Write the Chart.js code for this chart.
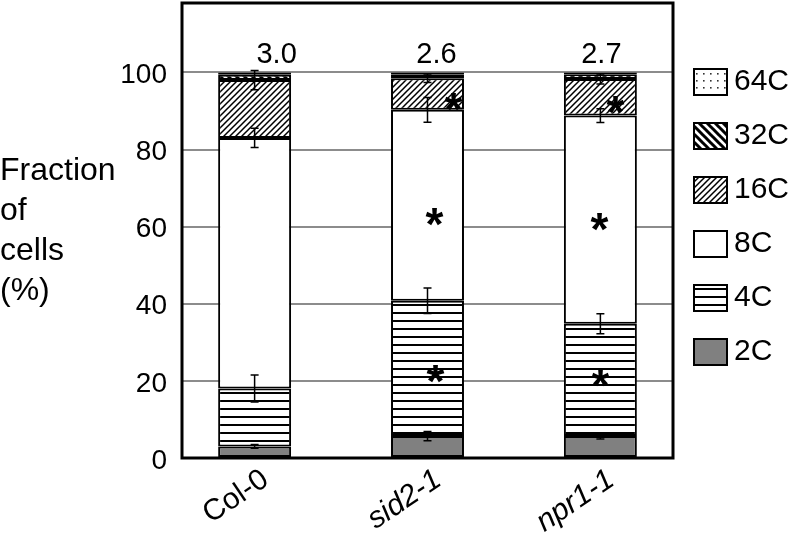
<!DOCTYPE html>
<html>
<head>
<meta charset="utf-8">
<script src="https://cdn.jsdelivr.net/npm/chart.js@4.4.1/dist/chart.umd.min.js"></script>
<style>
  html, body { margin: 0; padding: 0; background: #fff; }
  #wrap { width: 790px; height: 537px; position: relative; }
</style>
</head>
<body>
<div id="wrap"><canvas id="ploidyChart"></canvas></div>
<script>
// genotypes on the x axis
const genotypes = ["Col-0", "sid2-1", "npr1-1"];
// mean ploidy printed above each bar
const meanPloidy = ["3.0", "2.6", "2.7"];
// ploidy classes, bottom to top of the stack
const ploidyClasses = ["2C", "4C", "8C", "16C", "32C", "64C"];

// fraction of cells (%) per class, one value per genotype
const frac2C  = [3.0, 5.7, 5.7];
const frac4C  = [15.0, 35.1, 29.1];
const frac8C  = [65.0, 49.5, 54.0];
const frac16C = [15.0, 8.2, 9.5];
const frac32C = [1.4, 1.0, 1.2];
const frac64C = [0.6, 0.5, 0.5];

// error bars (+/-)
const err2C  = [0.5, 1.2, 0.8];
const err4C  = [3.5, 3.3, 2.6];
const err8C  = [2.5, 3.2, 1.8];
const err16C = [2.5, 1.1, 1.3];
const err32C = [0, 0, 0];
const err64C = [0, 0, 0];

// significance marks per class
const sig4C  = ["", "*", "*"];
const sig8C  = ["", "*", "*"];
const sig16C = ["", "*", "*"];

const FONT = "'Liberation Sans', Arial, sans-serif";

const fracs = [frac2C, frac4C, frac8C, frac16C, frac32C, frac64C];
const errs = [err2C, err4C, err8C, err16C, err32C, err64C];
const sigs = [null, sig4C, sig8C, sig16C, null, null];

// star placement tweaks (px offset from bar centre, value offset)
const starShift = {
  "1-1": [8, -1.5], "2-1": [7, -3], "3-1": [26, -2],
  "1-2": [0, 0.5], "2-2": [-1, -0.5], "3-2": [15, -2]
};
const meanShift = [22, 9, 1];

function makePattern(w, h, draw) {
  const c = document.createElement("canvas");
  c.width = w;
  c.height = h;
  const g = c.getContext("2d");
  g.fillStyle = "#fff";
  g.fillRect(0, 0, w, h);
  draw(g, w, h);
  return g.createPattern(c, "repeat");
}

const fill4C = makePattern(8, 8, (g, w) => {
  g.fillStyle = "#000";
  g.fillRect(0, 0, w, 2);
});
const fill16C = makePattern(6, 6, (g) => {
  g.strokeStyle = "#000";
  g.lineWidth = 1.5;
  g.beginPath();
  g.moveTo(-1, 7); g.lineTo(7, -1);
  g.moveTo(-1, 1); g.lineTo(1, -1);
  g.moveTo(5, 7); g.lineTo(7, 5);
  g.stroke();
});
const fill32C = makePattern(8, 8, (g) => {
  g.strokeStyle = "#000";
  g.lineWidth = 3;
  g.beginPath();
  g.moveTo(-1, -1); g.lineTo(9, 9);
  g.moveTo(7, -1); g.lineTo(9, 1);
  g.moveTo(-1, 7); g.lineTo(1, 9);
  g.stroke();
});
const fill64C = makePattern(7, 7, (g) => {
  g.fillStyle = "#333";
  g.fillRect(3, 3, 1.6, 1.6);
});
const fills = ["#808080", fill4C, "#ffffff", fill16C, fill32C, fill64C];

const datasets = ploidyClasses.map((cls, i) => ({
  label: cls,
  data: fracs[i].map((v, j) => ({ x: j, y: v })),
  backgroundColor: fills[i],
  borderColor: "#000",
  borderWidth: 2,
  borderSkipped: false,
  barPercentage: 0.422,
  categoryPercentage: 1.0,
  stack: "cells"
}));

const decorPlugin = {
  id: "decor",
  afterDatasetsDraw(chart) {
    const ctx = chart.ctx;
    const xs = chart.scales.x;
    const ys = chart.scales.y;
    const area = chart.chartArea;
    ctx.save();

    // error bars at the top of each segment
    ctx.strokeStyle = "#000";
    ctx.lineWidth = 1.5;
    genotypes.forEach((g, j) => {
      let cum = 0;
      const cx = xs.getPixelForValue(j);
      fracs.forEach((arr, i) => {
        cum += arr[j];
        const e = errs[i][j];
        if (!e) return;
        const y1 = ys.getPixelForValue(cum + e);
        const y2 = ys.getPixelForValue(cum - e);
        ctx.beginPath();
        ctx.moveTo(cx, y1); ctx.lineTo(cx, y2);
        ctx.moveTo(cx - 4, y1); ctx.lineTo(cx + 4, y1);
        ctx.moveTo(cx - 4, y2); ctx.lineTo(cx + 4, y2);
        ctx.stroke();
      });
    });

    // significance stars in the middle of the segment
    ctx.fillStyle = "#000";
    ctx.font = "bold 46px " + FONT;
    ctx.textAlign = "center";
    ctx.textBaseline = "alphabetic";
    genotypes.forEach((g, j) => {
      let cum = 0;
      fracs.forEach((arr, i) => {
        const base = cum;
        cum += arr[j];
        const s = sigs[i] && sigs[i][j];
        if (!s) return;
        const shift = starShift[i + "-" + j] || [0, 0];
        const cx = xs.getPixelForValue(j) + shift[0];
        const cy = ys.getPixelForValue((base + cum) / 2 + shift[1]);
        const m = ctx.measureText(s);
        const mid = (m.actualBoundingBoxAscent - m.actualBoundingBoxDescent) / 2;
        ctx.fillText(s, cx, cy + mid);
      });
    });

    // frame round the plot
    ctx.lineWidth = 3;
    ctx.strokeRect(area.left, area.top, area.right - area.left, area.bottom - area.top);

    // mean ploidy numbers
    ctx.font = "29px " + FONT;
    ctx.textBaseline = "middle";
    meanPloidy.forEach((t, j) => {
      ctx.fillText(t, xs.getPixelForValue(j) + meanShift[j], 55);
    });
    ctx.restore();
  },
  afterDraw(chart) {
    const ctx = chart.ctx;
    ctx.save();
    // y axis title, horizontal on four lines
    ctx.fillStyle = "#000";
    ctx.font = "32px " + FONT;
    ctx.textAlign = "left";
    ctx.textBaseline = "alphabetic";
    ["Fraction", "of", "cells", "(%)"].forEach((t, k) => {
      ctx.fillText(t, 0, 180 + k * 40);
    });

    // legend, 64C on top
    ctx.font = "30px " + FONT;
    ctx.textBaseline = "middle";
    ploidyClasses.slice().reverse().forEach((cls, k) => {
      const i = ploidyClasses.length - 1 - k;
      const cy = 82 + k * 54;
      ctx.fillStyle = fills[i];
      ctx.fillRect(694, cy - 13, 33, 26);
      ctx.strokeStyle = "#000";
      ctx.lineWidth = 2;
      ctx.strokeRect(694, cy - 13, 33, 26);
      ctx.fillStyle = "#000";
      ctx.fillText(cls, 734, cy);
    });
    ctx.restore();
  }
};

new Chart(document.getElementById("ploidyChart"), {
  type: "bar",
  data: { datasets },
  options: {
    responsive: true,
    maintainAspectRatio: false,
    animation: false,
    layout: { padding: { left: 0, right: 117, top: 3, bottom: 0 } },
    plugins: {
      legend: { display: false },
      tooltip: { enabled: false }
    },
    scales: {
      x: {
        type: "linear",
        stacked: true,
        offset: false,
        min: -0.42,
        max: 2.42,
        grid: { display: false },
        border: { display: false },
        afterBuildTicks: (s) => {
          s.ticks = genotypes.map((g, i) => ({ value: i }));
        },
        afterFit: (s) => {
          s.height = 79;
          s.paddingLeft = 0;
          s.paddingRight = 0;
        },
        ticks: {
          autoSkip: false,
          minRotation: 34,
          maxRotation: 34,
          padding: -4,
          labelOffset: 11,
          color: "#000",
          font: (c) => ({ family: FONT, size: 30, style: c.index > 0 ? "italic" : "normal" }),
          callback: (v) => genotypes[v]
        }
      },
      y: {
        stacked: true,
        min: 0,
        max: 118,
        grid: { color: "#8c8c8c", lineWidth: 2, drawTicks: false },
        border: { display: false },
        afterFit: (s) => {
          s.width = 182;
          s.paddingTop = 0;
          s.paddingBottom = 0;
        },
        ticks: {
          stepSize: 20,
          includeBounds: false,
          padding: 15,
          labelOffset: 3,
          color: "#000",
          font: { family: FONT, size: 28 }
        }
      }
    }
  },
  plugins: [decorPlugin]
});
</script>
</body>
</html>
